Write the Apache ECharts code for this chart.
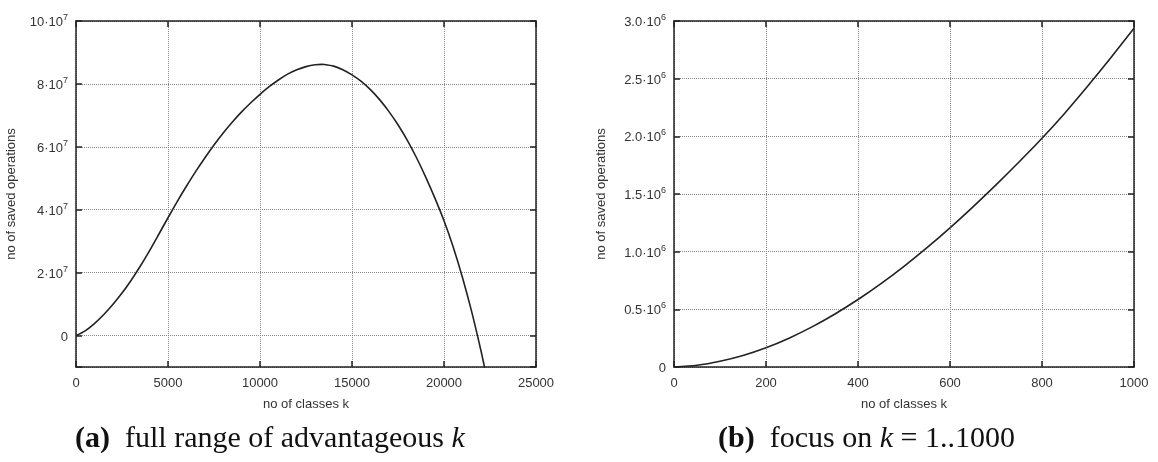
<!DOCTYPE html>
<html>
<head>
<meta charset="utf-8">
<script src="https://cdn.jsdelivr.net/npm/echarts@6/dist/echarts.min.js"></script>
<style>
  html, body { margin: 0; padding: 0; background: #fff; }
  #chart { width: 1158px; height: 462px; }
</style>
</head>
<body>
<div id="chart"></div>
<script>
// (a) full range: k -> saved operations (in units of 10^7)
const fullK = [0, 500, 1000, 1500, 2000, 2500, 3000, 3500, 4000, 4500, 5000, 5500, 6000, 6500,
  7000, 7500, 8000, 8500, 9000, 9500, 10000, 10500, 11000, 11500, 12000, 12500, 13000, 13350,
  13500, 14000, 14500, 15000, 15500, 16000, 16500, 17000, 17500, 18000, 18500, 19000, 19500,
  20000, 20500, 21000, 21500, 22000, 22300];
const fullSaved = [0, 0.15, 0.38, 0.66, 0.985, 1.35, 1.76, 2.21, 2.70, 3.22, 3.745, 4.26, 4.745, 5.21,
  5.645, 6.057, 6.44, 6.79, 7.11, 7.40, 7.67, 7.91, 8.125, 8.31, 8.45, 8.55, 8.61, 8.62,
  8.617, 8.565, 8.45, 8.285, 8.077, 7.817, 7.50, 7.127, 6.70, 6.212, 5.66, 5.047, 4.377,
  3.647, 2.817, 1.855, 0.767, -0.458, -1.27];

// (b) focus on k = 1..1000 (in units of 10^6)
const focusK = [0, 50, 100, 150, 200, 250, 300, 350, 400, 450, 500, 550, 600, 650, 700, 750,
  800, 850, 900, 950, 1000];
const focusSaved = [0, 0.015, 0.05, 0.1, 0.167, 0.25, 0.348, 0.46, 0.585, 0.723, 0.873, 1.035,
  1.207, 1.389, 1.579, 1.777, 1.983, 2.203, 2.438, 2.683, 2.938];

const xTicksFull = [0, 5000, 10000, 15000, 20000, 25000];
const xTicksFocus = [0, 200, 400, 600, 800, 1000];

const chart = echarts.init(document.getElementById('chart'));

const sans = 'Liberation Sans';
const serif = 'Liberation Serif';
const ink = '#222';

const supRich = {
  n: { fontSize: 13, lineHeight: 16, verticalAlign: 'bottom', color: '#333', fontFamily: sans },
  s: { fontSize: 9, lineHeight: 9, verticalAlign: 'top', color: '#333', fontFamily: sans }
};

function mainX(grid, min, max, interval, name) {
  return {
    type: 'value', gridIndex: grid, position: 'bottom', min, max, interval,
    name, nameLocation: 'middle', nameGap: 31,
    nameTextStyle: { fontFamily: sans, fontSize: 13, color: '#333' },
    axisLine: { show: true, onZero: false, lineStyle: { color: ink, width: 1.5 } },
    axisTick: { show: true, inside: true, length: 6, lineStyle: { color: ink, width: 1.5 } },
    axisLabel: {
      margin: 10, fontFamily: sans, fontSize: 13, color: '#333',
      showMinLabel: true, showMaxLabel: true, formatter: v => String(v)
    },
    splitLine: { show: true, lineStyle: { type: 'dotted', color: '#888', width: 1 } }
  };
}

function mirrorX(grid, min, max, interval) {
  return {
    type: 'value', gridIndex: grid, position: 'top', min, max, interval,
    axisLine: { show: true, onZero: false, lineStyle: { color: ink, width: 1.5 } },
    axisTick: { show: true, inside: true, length: 6, lineStyle: { color: ink, width: 1.5 } },
    axisLabel: { show: false },
    splitLine: { show: false }
  };
}

function mainY(grid, extra, fmt, gap) {
  return Object.assign({
    type: 'value', gridIndex: grid, position: 'left',
    name: 'no of saved operations', nameLocation: 'middle', nameGap: gap,
    nameTextStyle: { fontFamily: sans, fontSize: 13, color: '#333' },
    axisLine: { show: true, onZero: false, lineStyle: { color: ink, width: 1.5 } },
    axisTick: { show: true, inside: true, length: 6, lineStyle: { color: ink, width: 1.5 } },
    axisLabel: { margin: 8, formatter: fmt, rich: supRich, showMinLabel: true, showMaxLabel: true },
    splitLine: { show: true, lineStyle: { type: 'dotted', color: '#888', width: 1 } }
  }, extra);
}

function mirrorY(grid, extra) {
  return Object.assign({
    type: 'value', gridIndex: grid, position: 'right',
    axisLine: { show: true, onZero: false, lineStyle: { color: ink, width: 1.5 } },
    axisTick: { show: true, inside: true, length: 6, lineStyle: { color: ink, width: 1.5 } },
    axisLabel: { show: false },
    splitLine: { show: false }
  }, extra);
}

// 0, 2·10^7, ... 10·10^7 ; the -1e7 bottom edge gets no label
const fmtFull = v => {
  if (v === 0) return '{n|0}';
  if (v < 0 || v % 2e7 !== 0) return '';
  return '{n|' + (v / 1e7) + '·10}{s|7}';
};
const fmtFocus = v => {
  if (v === 0) return '{n|0}';
  return '{n|' + (v / 1e6).toFixed(1) + '·10}{s|6}';
};

const captionStyle = {
  fontFamily: serif, fontSize: 30, fontWeight: 'normal', color: '#111',
  rich: {
    b: { fontFamily: serif, fontSize: 30, fontWeight: 'bold', color: '#111' },
    g: { width: 15 },
    i: { fontFamily: serif, fontSize: 30, fontStyle: 'italic', color: '#111' }
  }
};

const option = {
  animation: false,
  backgroundColor: '#fff',
  title: [
    {
      text: '{b|(a)}{g|}full range of advantageous {i|k}',
      left: 75, top: 424, padding: 0, textStyle: captionStyle
    },
    {
      text: '{b|(b)}{g|}focus on {i|k} = 1..1000',
      left: 718, top: 424, padding: 0, textStyle: captionStyle
    }
  ],
  grid: [
    { left: 76, top: 21, width: 460, height: 346, outerBoundsMode: 'none' },
    { left: 674, top: 21, width: 460, height: 346, outerBoundsMode: 'none' }
  ],
  xAxis: [
    mainX(0, xTicksFull[0], xTicksFull[xTicksFull.length - 1], 5000, 'no of classes k'),
    mirrorX(0, xTicksFull[0], xTicksFull[xTicksFull.length - 1], 5000),
    mainX(1, xTicksFocus[0], xTicksFocus[xTicksFocus.length - 1], 200, 'no of classes k'),
    mirrorX(1, xTicksFocus[0], xTicksFocus[xTicksFocus.length - 1], 200)
  ],
  yAxis: [
    mainY(0, { min: -1e7, max: 1e8, splitNumber: 5 }, fmtFull, 58),
    mirrorY(0, { min: -1e7, max: 1e8, splitNumber: 5 }),
    mainY(1, { min: 0, max: 3e6, interval: 5e5 }, fmtFocus, 66),
    mirrorY(1, { min: 0, max: 3e6, interval: 5e5 })
  ],
  series: [
    {
      type: 'line', xAxisIndex: 0, yAxisIndex: 0, showSymbol: false, smooth: 0.25,
      clip: true,
      lineStyle: { color: ink, width: 1.6 },
      data: fullK.map((k, i) => [k, fullSaved[i] * 1e7])
    },
    {
      type: 'line', xAxisIndex: 2, yAxisIndex: 2, showSymbol: false, smooth: 0.25,
      clip: true,
      lineStyle: { color: ink, width: 1.6 },
      data: focusK.map((k, i) => [k, focusSaved[i] * 1e6])
    }
  ]
};

chart.setOption(option);
</script>
</body>
</html>
